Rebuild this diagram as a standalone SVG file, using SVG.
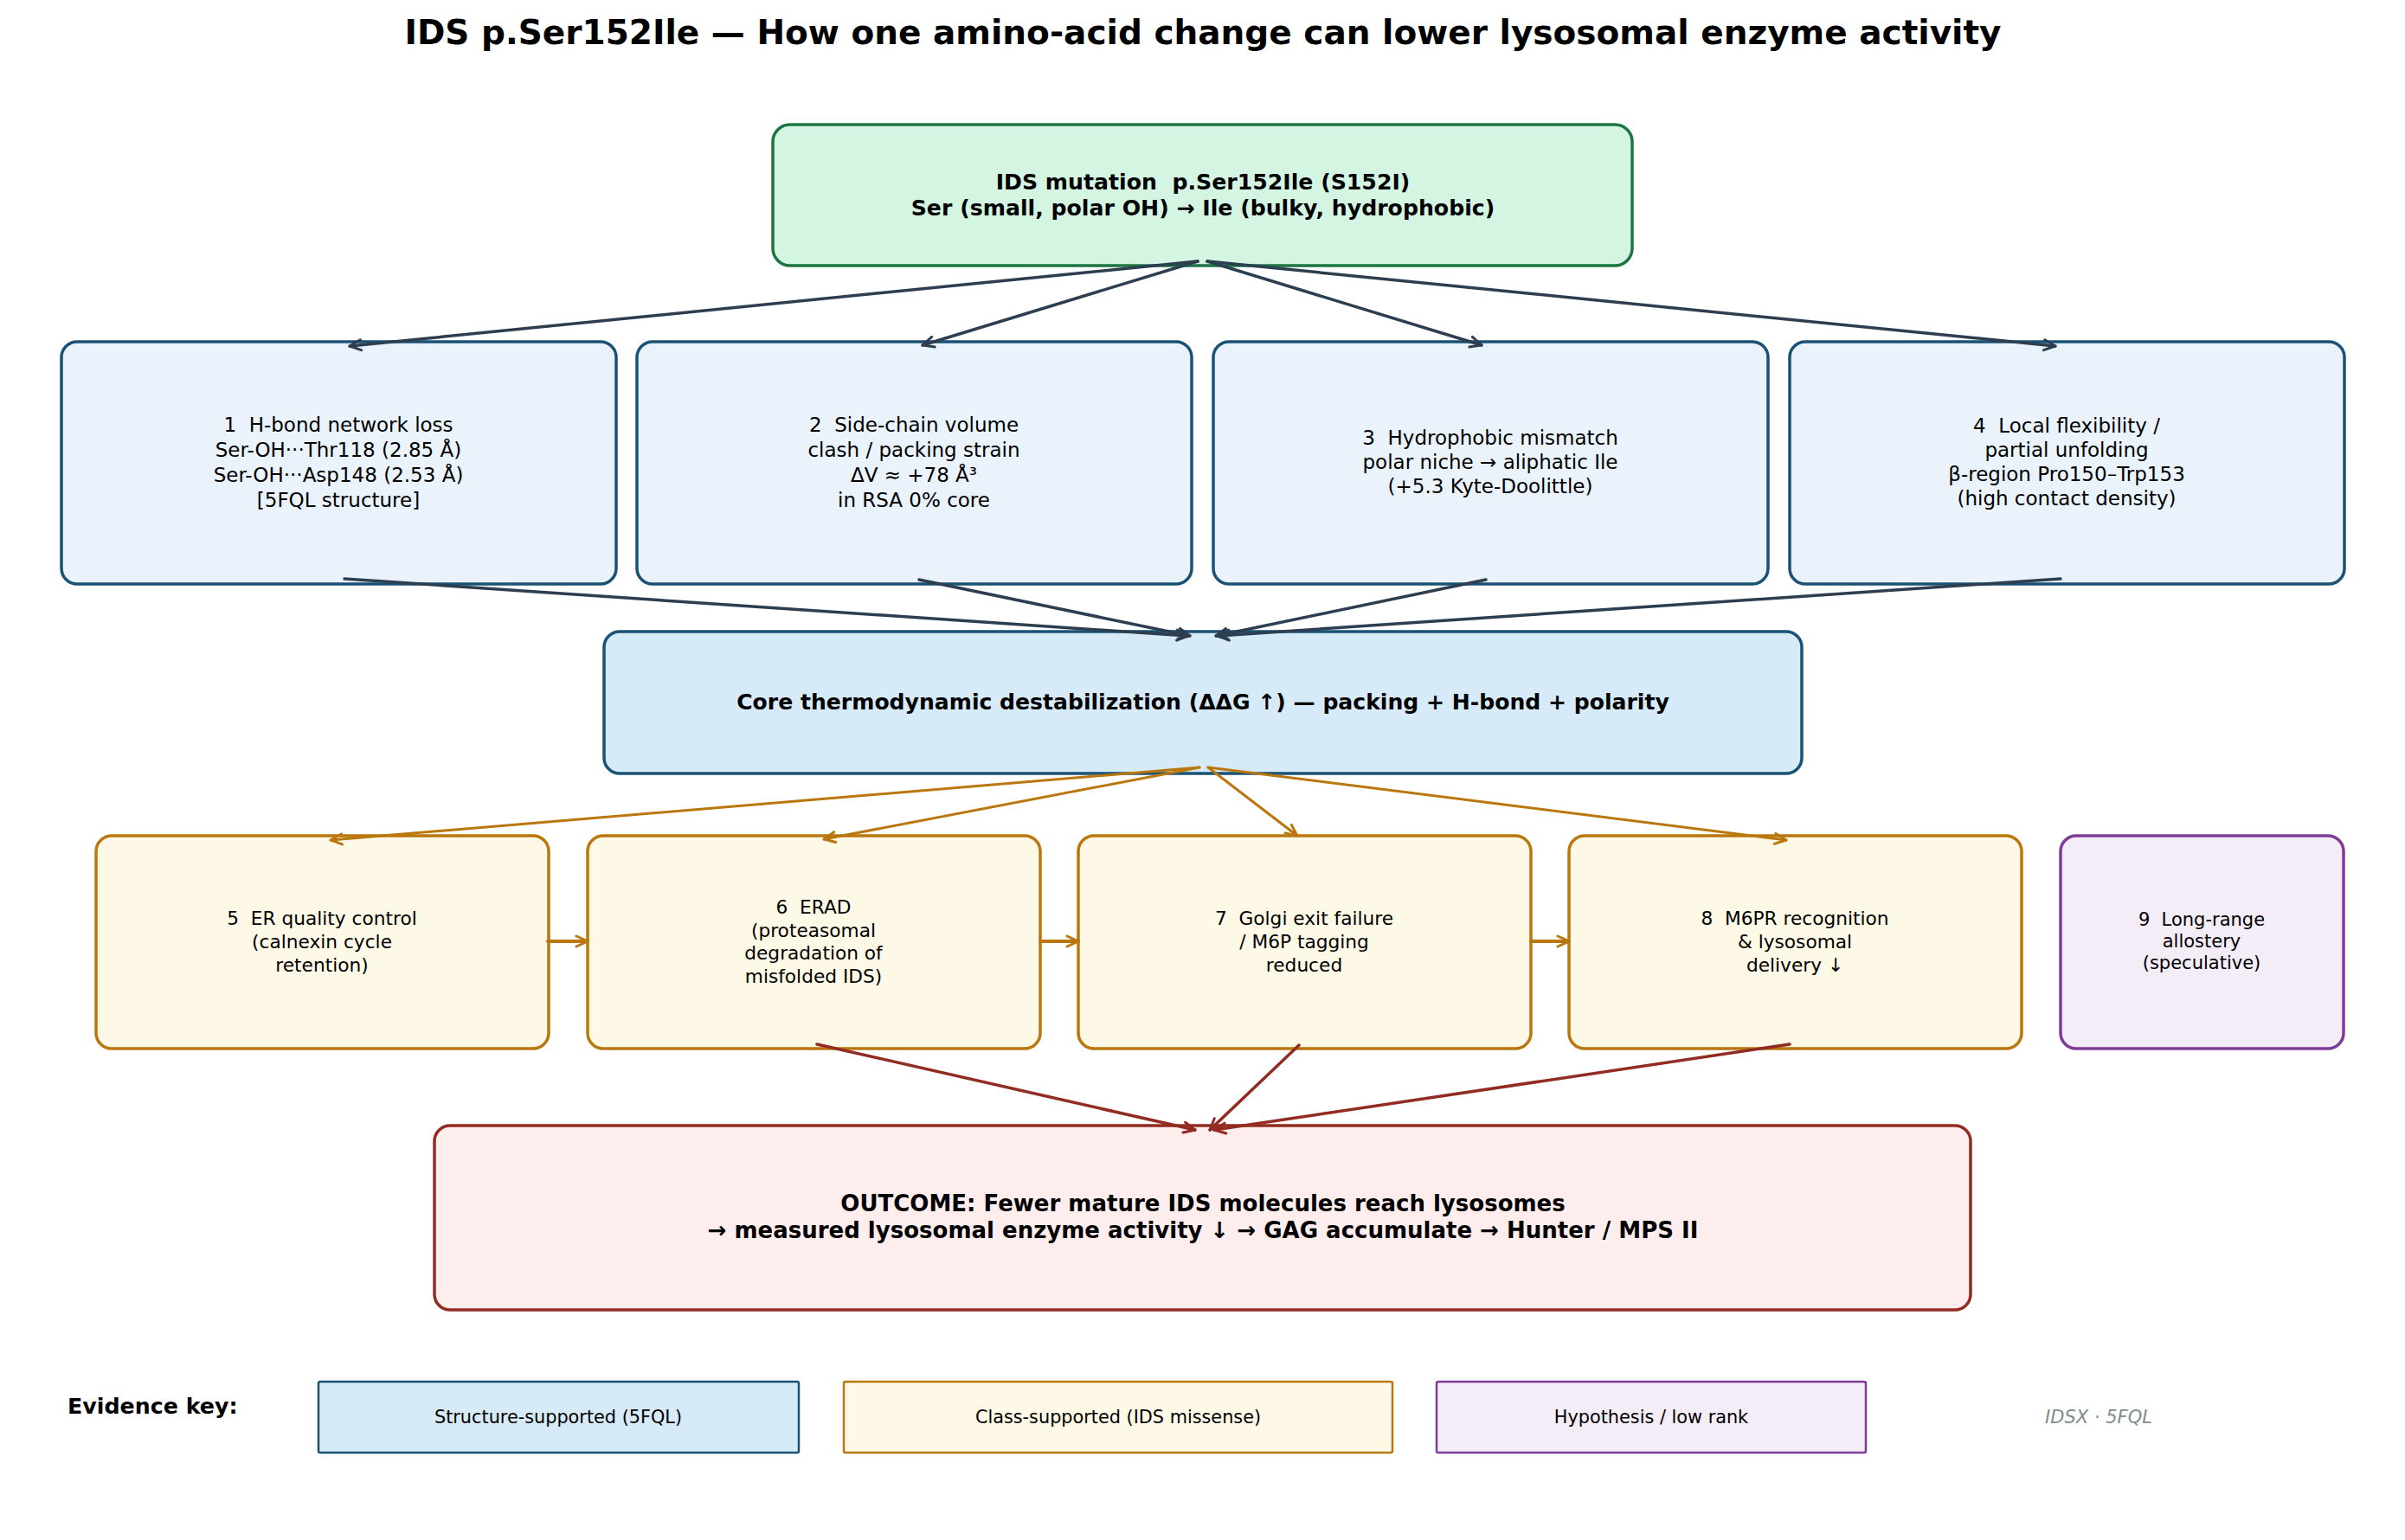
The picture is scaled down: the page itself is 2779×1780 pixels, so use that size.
<svg xmlns="http://www.w3.org/2000/svg" width="2779" height="1780" viewBox="0 0 2779 1780">
<style>
text{font-family:"DejaVu Sans","Liberation Sans",sans-serif;fill:#000;text-anchor:middle;dominant-baseline:central}
.title{font-size:39px;font-weight:bold}
.top{font-size:25.2px;font-weight:bold}
.r1{font-size:23px}
.mid{font-size:25.1px;font-weight:bold}
.r2{font-size:21.7px}
.r9{font-size:21px}
.out{font-size:26px;font-weight:bold}
.leg{font-size:20.8px}
.key{font-size:25.3px;font-weight:bold;text-anchor:start}
.tag{font-size:21px;font-style:italic;fill:#7f8c8d}
.n-top{fill:#d5f5e3;stroke:#1d7542;stroke-width:3.5}
.n-s{fill:#eaf3fb;stroke:#1a5276;stroke-width:3.5}
.n-mid{fill:#d6eaf8;stroke:#1a5276;stroke-width:3.5}
.n-c{fill:#fef9e7;stroke:#b9770e;stroke-width:3.5}
.n-h{fill:#f4ecf7;stroke:#7d3c98;stroke-width:3.5}
.n-o{fill:#fdedec;stroke:#922b21;stroke-width:3.5}
.l-s{fill:#d6eaf8;stroke:#1a5276;stroke-width:2.5}
.l-c{fill:#fef9e7;stroke:#b9770e;stroke-width:2.5}
.l-h{fill:#f4ecf7;stroke:#7d3c98;stroke-width:2.5}
line{stroke-linecap:round;fill:none}
.e-d{stroke:#2c3e50;stroke-width:3.5;marker-end:url(#m-d)}
.e-g{stroke:#b9770e;stroke-width:3;marker-end:url(#m-g)}
.e-gh{stroke:#b9770e;stroke-width:4;marker-end:url(#m-g)}
.e-r{stroke:#922b21;stroke-width:3.5;marker-end:url(#m-r)}
</style>
<defs>
<marker id="m-d" markerUnits="userSpaceOnUse" viewBox="0 0 16 16" markerWidth="16" markerHeight="16" refX="15" refY="8" orient="auto"><path d="M2,2 L15,8 L2,14" fill="none" stroke="#2c3e50" stroke-width="3" stroke-linecap="round"/></marker>
<marker id="m-g" markerUnits="userSpaceOnUse" viewBox="0 0 16 16" markerWidth="16" markerHeight="16" refX="15" refY="8" orient="auto"><path d="M2,2 L15,8 L2,14" fill="none" stroke="#b9770e" stroke-width="3" stroke-linecap="round"/></marker>
<marker id="m-r" markerUnits="userSpaceOnUse" viewBox="0 0 16 16" markerWidth="16" markerHeight="16" refX="15" refY="8" orient="auto"><path d="M2,2 L15,8 L2,14" fill="none" stroke="#922b21" stroke-width="3" stroke-linecap="round"/></marker>
</defs>
<rect width="2779" height="1780" fill="#fff"/>
<text class="title" x="1390" y="37">IDS p.Ser152Ile — How one amino-acid change can lower lysosomal enzyme activity</text>

<g id="node-mutation">
<rect class="n-top" x="893" y="144" width="993" height="163" rx="20"/>
<text class="top" x="1390" y="210" xml:space="preserve">IDS mutation  p.Ser152Ile (S152I)</text>
<text class="top" x="1390" y="240">Ser (small, polar OH) → Ile (bulky, hydrophobic)</text>
</g>

<g id="node-1">
<rect class="n-s" x="71" y="395" width="641" height="280" rx="18"/>
<text class="r1" x="391" y="491" xml:space="preserve">1  H-bond network loss</text>
<text class="r1" x="391" y="520">Ser-OH···Thr118 (2.85 Å)</text>
<text class="r1" x="391" y="549">Ser-OH···Asp148 (2.53 Å)</text>
<text class="r1" x="391" y="578">[5FQL structure]</text>
</g>
<g id="node-2">
<rect class="n-s" x="736" y="395" width="641" height="280" rx="18"/>
<text class="r1" x="1056" y="491" xml:space="preserve">2  Side-chain volume</text>
<text class="r1" x="1056" y="520">clash / packing strain</text>
<text class="r1" x="1056" y="549">ΔV ≈ +78 Å³</text>
<text class="r1" x="1056" y="578">in RSA 0% core</text>
</g>
<g id="node-3">
<rect class="n-s" x="1402" y="395" width="641" height="280" rx="18"/>
<text class="r1" x="1722" y="506" xml:space="preserve">3  Hydrophobic mismatch</text>
<text class="r1" x="1722" y="534">polar niche → aliphatic Ile</text>
<text class="r1" x="1722" y="562">(+5.3 Kyte-Doolittle)</text>
</g>
<g id="node-4">
<rect class="n-s" x="2068" y="395" width="641" height="280" rx="18"/>
<text class="r1" x="2388" y="492" xml:space="preserve">4  Local flexibility /</text>
<text class="r1" x="2388" y="520">partial unfolding</text>
<text class="r1" x="2388" y="548">β-region Pro150–Trp153</text>
<text class="r1" x="2388" y="576">(high contact density)</text>
</g>

<g id="node-core">
<rect class="n-mid" x="698" y="730" width="1384" height="164" rx="18"/>
<text class="mid" x="1390" y="811">Core thermodynamic destabilization (ΔΔG ↑) — packing + H-bond + polarity</text>
</g>

<g id="node-5">
<rect class="n-c" x="111" y="966" width="523" height="246" rx="18"/>
<text class="r2" x="372" y="1061" xml:space="preserve">5  ER quality control</text>
<text class="r2" x="372" y="1088">(calnexin cycle</text>
<text class="r2" x="372" y="1115">retention)</text>
</g>
<g id="node-6">
<rect class="n-c" x="679" y="966" width="523" height="246" rx="18"/>
<text class="r2" x="940" y="1048" xml:space="preserve">6  ERAD</text>
<text class="r2" x="940" y="1075">(proteasomal</text>
<text class="r2" x="940" y="1101">degradation of</text>
<text class="r2" x="940" y="1128">misfolded IDS)</text>
</g>
<g id="node-7">
<rect class="n-c" x="1246" y="966" width="523" height="246" rx="18"/>
<text class="r2" x="1507" y="1061" xml:space="preserve">7  Golgi exit failure</text>
<text class="r2" x="1507" y="1088">/ M6P tagging</text>
<text class="r2" x="1507" y="1115">reduced</text>
</g>
<g id="node-8">
<rect class="n-c" x="1813" y="966" width="523" height="246" rx="18"/>
<text class="r2" x="2074" y="1061" xml:space="preserve">8  M6PR recognition</text>
<text class="r2" x="2074" y="1088">&amp; lysosomal</text>
<text class="r2" x="2074" y="1115">delivery ↓</text>
</g>
<g id="node-9">
<rect class="n-h" x="2381" y="966" width="327" height="246" rx="18"/>
<text class="r9" x="2544" y="1063" xml:space="preserve">9  Long-range</text>
<text class="r9" x="2544" y="1088">allostery</text>
<text class="r9" x="2544" y="1113">(speculative)</text>
</g>

<g id="node-outcome">
<rect class="n-o" x="502" y="1301" width="1775" height="213" rx="18"/>
<text class="out" x="1390" y="1391">OUTCOME: Fewer mature IDS molecules reach lysosomes</text>
<text class="out" x="1390" y="1422">→ measured lysosomal enzyme activity ↓ → GAG accumulate → Hunter / MPS II</text>
</g>

<g id="connectors">
<line class="e-d" x1="1384" y1="302" x2="404" y2="400"/>
<line class="e-d" x1="1384" y1="302" x2="1066" y2="399"/>
<line class="e-d" x1="1395" y1="302" x2="1712" y2="399"/>
<line class="e-d" x1="1395" y1="302" x2="2375" y2="400"/>
<line class="e-d" x1="398" y1="669" x2="1373" y2="735"/>
<line class="e-d" x1="1062" y1="670" x2="1375" y2="735"/>
<line class="e-d" x1="1717" y1="670" x2="1405" y2="735"/>
<line class="e-d" x1="2381" y1="669" x2="1407" y2="735"/>
<line class="e-g" x1="1386" y1="887" x2="382" y2="971"/>
<line class="e-g" x1="1386" y1="887" x2="952" y2="970"/>
<line class="e-g" x1="1396" y1="887" x2="1499" y2="966"/>
<line class="e-g" x1="1396" y1="887" x2="2064" y2="971"/>
<line class="e-gh" x1="633" y1="1088" x2="679" y2="1088"/>
<line class="e-gh" x1="1202" y1="1088" x2="1246" y2="1088"/>
<line class="e-gh" x1="1769" y1="1088" x2="1813" y2="1088"/>
<line class="e-r" x1="944" y1="1207" x2="1381" y2="1306"/>
<line class="e-r" x1="1501" y1="1208" x2="1398" y2="1306"/>
<line class="e-r" x1="2068" y1="1207" x2="1403" y2="1306"/>
</g>

<g id="legend">
<text class="key" x="78" y="1625">Evidence key:</text>
<rect class="l-s" x="368" y="1597" width="555" height="82" rx="2"/>
<text class="leg" x="645" y="1638">Structure-supported (5FQL)</text>
<rect class="l-c" x="975" y="1597" width="634" height="82" rx="2"/>
<text class="leg" x="1292" y="1638">Class-supported (IDS missense)</text>
<rect class="l-h" x="1660" y="1597" width="496" height="82" rx="2"/>
<text class="leg" x="1908" y="1638">Hypothesis / low rank</text>
<text class="tag" x="2425" y="1638">IDSX · 5FQL</text>
</g>
</svg>
